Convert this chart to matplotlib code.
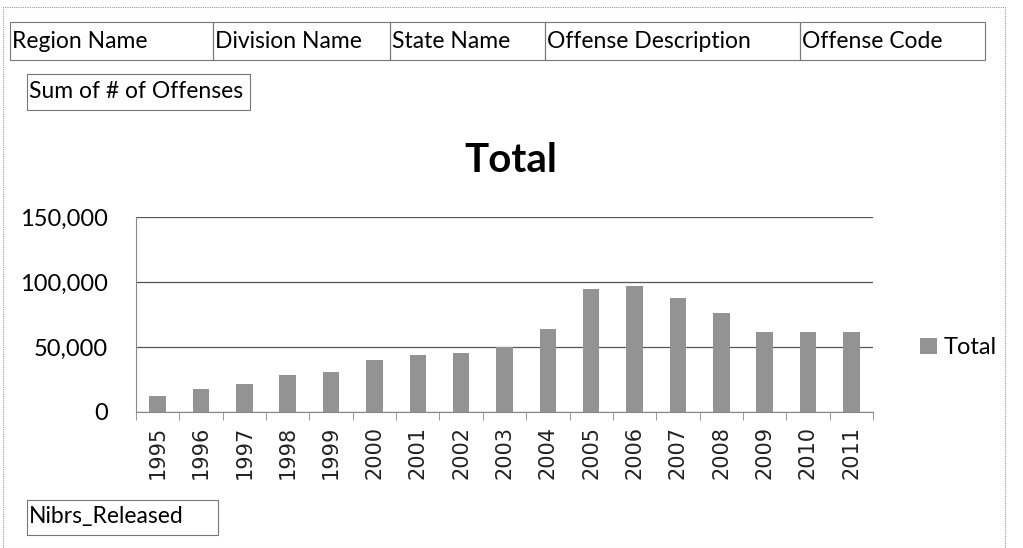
import matplotlib
matplotlib.use("Agg")
import matplotlib.pyplot as plt
from matplotlib.patches import Rectangle
from matplotlib.ticker import FuncFormatter

years = [str(y) for y in range(1995, 2012)]
offenses = [12000, 17600, 21900, 28100, 30700, 40200, 43600, 45400, 50300,
            63500, 95000, 97000, 88000, 76400, 61900, 61900, 61900]
header_fields = ["Region Name", "Division Name", "State Name",
                 "Offense Description", "Offense Code"]
header_edges = [10, 213, 390, 545, 800, 985]  # pixel x of the field boxes

W, H = 1023, 548
ui_font = "Lato"

def fx(x):
    return x / W

def fy(y):
    return 1 - y / H

fig = plt.figure(figsize=(W / 100, H / 100), dpi=100)

# outer frame of the pivot chart
fig.add_artist(Rectangle((fx(3), fy(548)), fx(1005) - fx(3), fy(7) - fy(548),
                         transform=fig.transFigure, fill=False,
                         edgecolor="#999999", lw=0.8, ls=(0, (1, 1))))

# field buttons along the top
for i, name in enumerate(header_fields):
    x0, x1 = header_edges[i], header_edges[i + 1]
    fig.add_artist(Rectangle((fx(x0), fy(60)), fx(x1) - fx(x0), fy(22) - fy(60),
                             transform=fig.transFigure, fill=False,
                             edgecolor="#777777", lw=0.8))
    fig.text(fx(x0 + 2), fy(42), name, fontsize=16.5, family=ui_font,
             va="center", ha="left")

# value field button
fig.add_artist(Rectangle((fx(27), fy(110)), fx(250) - fx(27), fy(74) - fy(110),
                         transform=fig.transFigure, fill=False,
                         edgecolor="#777777", lw=0.8))
fig.text(fx(29), fy(92), "Sum of # of Offenses", fontsize=16.5, family=ui_font,
         va="center", ha="left")

# axis field button
fig.add_artist(Rectangle((fx(27), fy(535)), fx(218) - fx(27), fy(500) - fy(535),
                         transform=fig.transFigure, fill=False,
                         edgecolor="#777777", lw=0.8))
fig.text(fx(29), fy(517), "Nibrs_Released", fontsize=16.5, family=ui_font,
         va="center", ha="left")

fig.text(fx(511), fy(160), "Total", fontsize=29, fontweight="bold",
         family=ui_font, ha="center", va="center")

ax = fig.add_axes([fx(136), fy(412), fx(873) - fx(136), fy(217) - fy(412)])
bars = ax.bar(range(len(years)), offenses, width=0.38, color="#939393",
              label="Total")
ax.set_xlim(-0.5, len(years) - 0.5)
ax.set_ylim(0, 150000)
ax.set_yticks([0, 50000, 100000, 150000])
ax.yaxis.set_major_formatter(FuncFormatter(lambda v, p: f"{int(v):,}"))
ax.grid(axis="y", color="#555555", lw=0.9)
ax.set_axisbelow(True)
for s in ["top", "right"]:
    ax.spines[s].set_visible(False)
ax.spines["left"].set_color("#888888")
ax.spines["bottom"].set_color("#888888")
ax.tick_params(axis="y", length=0, pad=20, labelsize=17)
for lab in ax.get_yticklabels():
    lab.set_family(ui_font)

# year labels at the bar centres, tick marks on category edges
ax.set_xticks(range(len(years)))
ax.set_xticklabels(years, rotation=90, fontsize=15, family="DejaVu Sans",
                   color="#222222")
ax.tick_params(axis="x", length=0, pad=10)
ax.set_xticks([i - 0.5 for i in range(len(years) + 1)], minor=True)
ax.tick_params(axis="x", which="minor", length=6, color="#888888")

ax.legend(loc="center left", bbox_to_anchor=(1.035, 0.33), frameon=False,
          handlelength=0.7, handleheight=0.7, handletextpad=0.3,
          prop={"family": ui_font, "size": 17})

fig.savefig("out.png", dpi=100)
